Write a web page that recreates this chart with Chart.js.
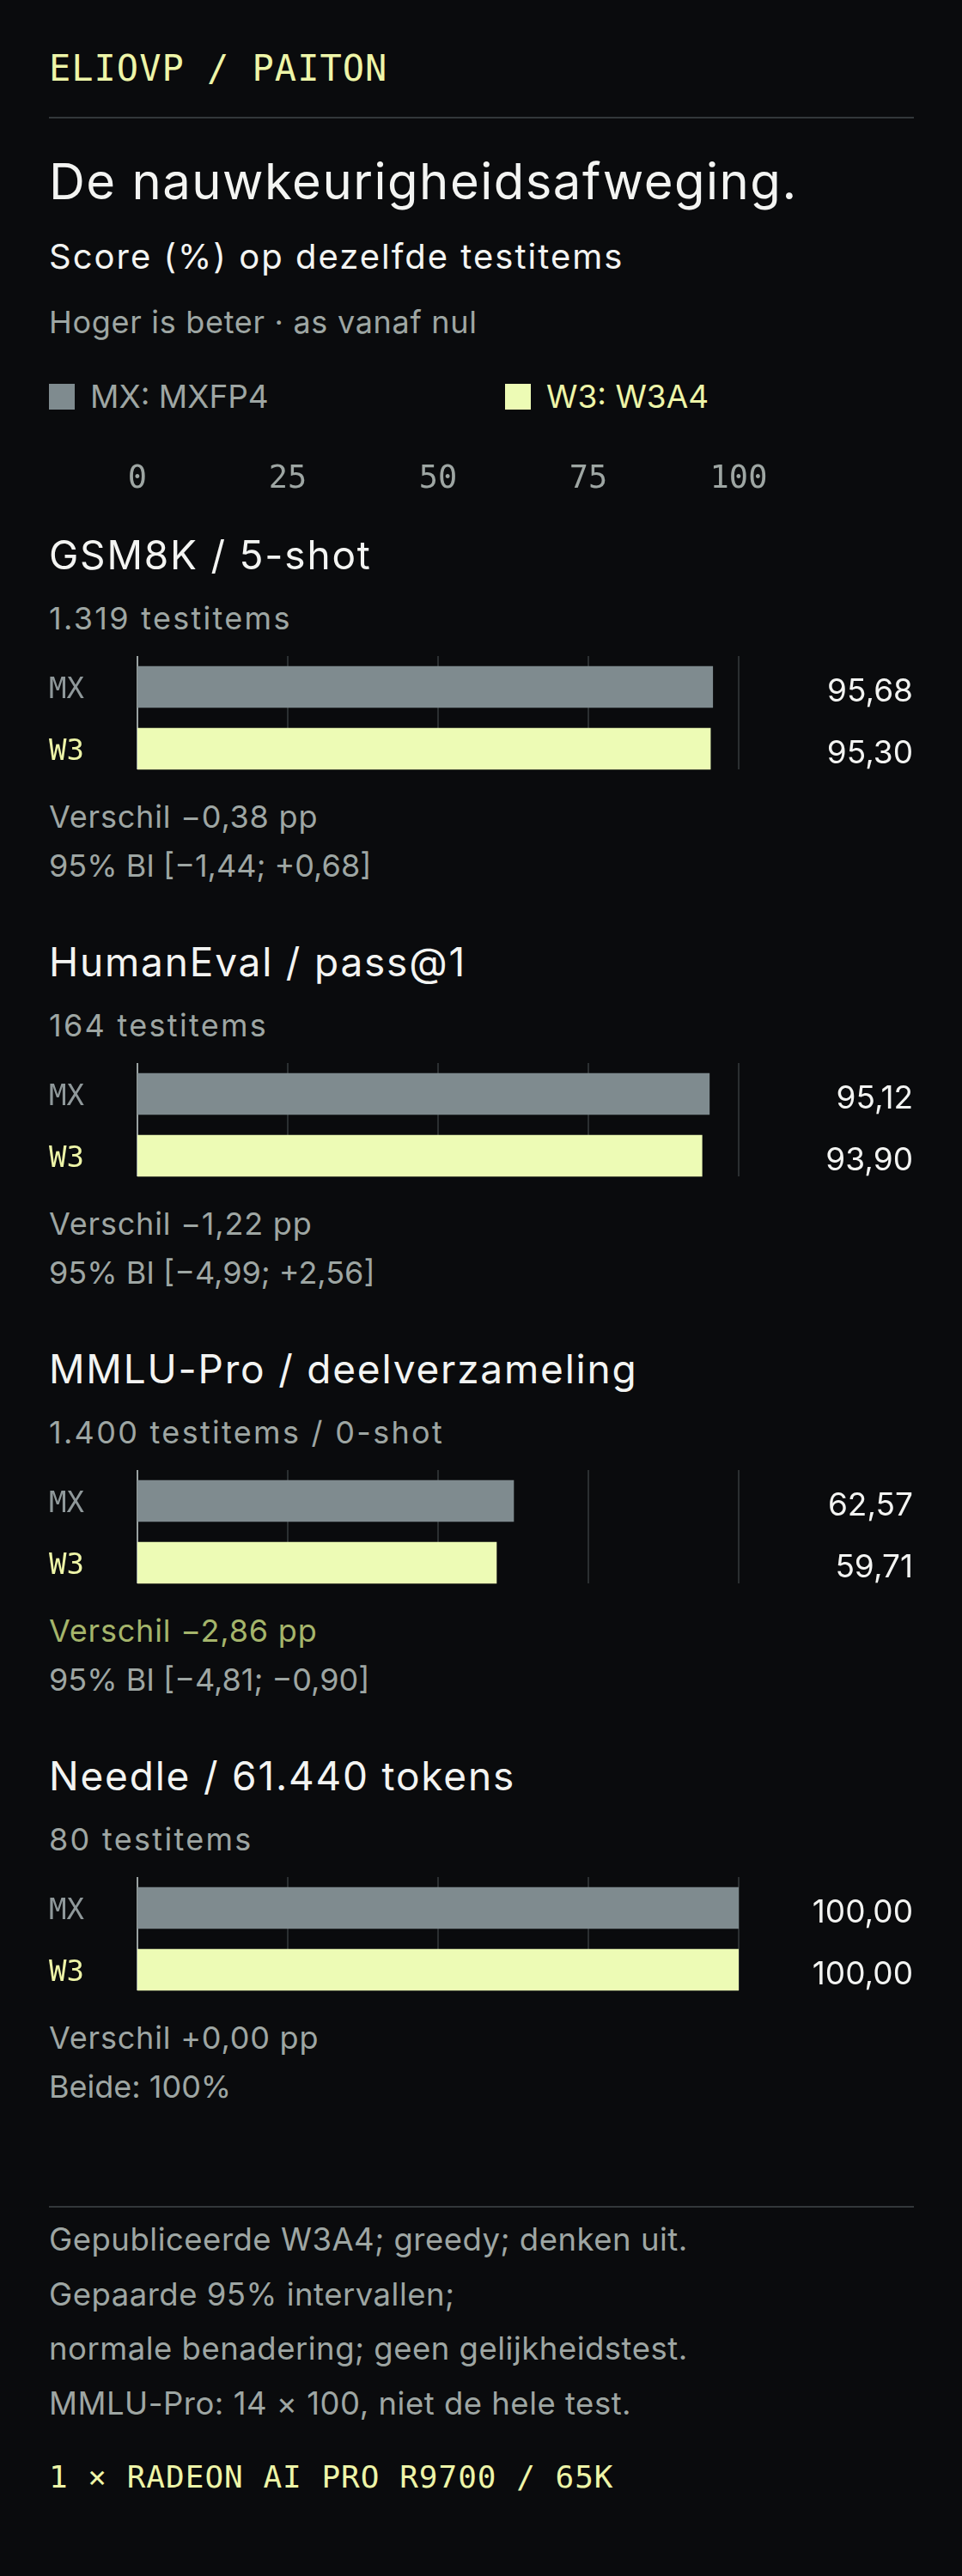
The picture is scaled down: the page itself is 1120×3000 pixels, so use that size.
<!DOCTYPE html>
<html lang="nl">
<head>
<meta charset="UTF-8">
<title>De nauwkeurigheidsafweging</title>
<style>
  html, body { margin: 0; padding: 0; background: #0a0b0d; }
  body {
    width: 1120px; height: 3000px; position: relative; overflow: hidden;
    font-family: Inter, "Noto Sans", sans-serif; color: #f3f4f2;
  }
  .t { position: absolute; left: 57px; white-space: nowrap; height: 60px; line-height: 60px; }
  .mono { font-family: "DejaVu Sans Mono", monospace; }
  .grey { color: #9ea6a3; }
  .rule { position: absolute; left: 57px; width: 1007px; height: 2px; background: #33373a; }
  .brand { top: 50px; font-size: 42px; letter-spacing: 1px; color: #eef5a8; }
  .title { top: 181px; font-size: 58px; letter-spacing: 1.5px; }
  .subtitle { top: 269px; font-size: 40px; letter-spacing: 2px; }
  .hint { top: 345px; font-size: 36px; letter-spacing: 0.7px; }
  .legend { top: 432px; font-size: 37px; }
  .legend span.sw { display: inline-block; width: 30px; height: 30px; vertical-align: middle; margin-right: 18px; position: relative; top: -3px; }
  .legend .item { position: absolute; top: 0; }
  .sec-head { font-size: 46px; letter-spacing: 1.8px; }
  .sec-count { font-size: 36px; letter-spacing: 2.3px; }
  .sec-diff { font-size: 36px; letter-spacing: 0.8px; }
  .sec-ci { font-size: 36px; }
  .foot { font-size: 36.5px; letter-spacing: 0.5px; }
  .gpu { top: 2855px; font-size: 36px; letter-spacing: 1px; color: #eef5a8; }
  canvas { position: absolute; left: 57px; }
</style>
</head>
<body>
  <div class="t mono brand">ELIOVP / PAITON</div>
  <div class="rule" style="top:136px"></div>
  <div class="t title">De nauwkeurigheidsafweging.</div>
  <div class="t subtitle">Score (%) op dezelfde testitems</div>
  <div class="t hint grey">Hoger is beter · as vanaf nul</div>
  <div class="t legend" id="legend"></div>
  <canvas id="axis" width="1007" height="120" style="top:536px"></canvas>
  <div id="sections"></div>
  <div class="rule" style="top:2569px"></div>
  <div id="notes"></div>
  <div class="t mono gpu">1 × RADEON AI PRO R9700 / 65K</div>

<script src="https://cdn.jsdelivr.net/npm/chart.js"></script>
<script>
// data
const benchmarks = ['GSM8K / 5-shot', 'HumanEval / pass@1', 'MMLU-Pro / deelverzameling', 'Needle / 61.440 tokens'];
const itemCounts = ['1.319 testitems', '164 testitems', '1.400 testitems / 0-shot', '80 testitems'];
const rowLabels = ['MX', 'W3'];
const mxScores = [95.68, 95.12, 62.57, 100.00];
const w3Scores = [95.30, 93.90, 59.71, 100.00];
const ciText = ['95% BI [−1,44; +0,68]', '95% BI [−4,99; +2,56]', '95% BI [−4,81; −0,90]', 'Beide: 100%'];
const significant = [false, false, true, false];
const axisTicks = [0, 25, 50, 75, 100];
const legendNames = ['MX: MXFP4', 'W3: W3A4'];
const notes = [
  'Gepubliceerde W3A4; greedy; denken uit.',
  'Gepaarde 95% intervallen;',
  'normale benadering; geen gelijkheidstest.',
  'MMLU-Pro: 14 × 100, niet de hele test.'
];

const barColors = ['#7f8b8f', '#edfbb5'];
const labelColors = ['#8f989a', '#eef5a8'];
const gridColor = '#2b2f31';
const zeroColor = '#9aa2a1';
const SANS = 'Inter, "Noto Sans", sans-serif';
const MONO = '"DejaVu Sans Mono", monospace';

function nl(v) {
  return v.toFixed(2).replace('.', ',');
}

// legend
const legend = document.getElementById('legend');
legendNames.forEach((name, i) => {
  const el = document.createElement('div');
  el.className = 'item';
  el.style.left = (i * 531) + 'px';
  el.style.color = i === 0 ? '#9ea6a3' : '#eef5a8';
  el.innerHTML = '<span class="sw" style="background:' + barColors[i] + '"></span>' + name;
  legend.appendChild(el);
});

// vertical grid, stops at the bottom of the last bar
const gridPlugin = {
  id: 'grid',
  beforeDatasetsDraw(chart) {
    const x = chart.scales.x;
    const bars = chart.getDatasetMeta(0).data;
    const area = chart.chartArea;
    const bottom = bars[bars.length - 1].y + bars[bars.length - 1].height / 2;
    const ctx = chart.ctx;
    ctx.save();
    axisTicks.forEach(t => {
      const px = Math.round(x.getPixelForValue(t));
      ctx.strokeStyle = t === 0 ? zeroColor : gridColor;
      ctx.lineWidth = 2;
      ctx.beginPath();
      ctx.moveTo(px, area.top);
      ctx.lineTo(px, bottom);
      ctx.stroke();
    });
    ctx.restore();
  }
};

// score text on the right
const valuePlugin = {
  id: 'values',
  afterDatasetsDraw(chart) {
    const ctx = chart.ctx;
    const meta = chart.getDatasetMeta(0);
    ctx.save();
    ctx.font = '37px ' + SANS;
    ctx.fillStyle = '#f3f4f2';
    ctx.textAlign = 'right';
    ctx.textBaseline = 'alphabetic';
    meta.data.forEach((bar, i) => {
      ctx.fillText(nl(chart.data.datasets[0].data[i]), chart.width - 1, bar.y + 17);
    });
    ctx.restore();
  }
};

// top axis with tick labels only
new Chart(document.getElementById('axis'), {
  type: 'bar',
  data: { labels: [], datasets: [] },
  options: {
    indexAxis: 'y',
    responsive: false,
    animation: false,
    layout: { padding: { left: 103, right: 204 } },
    plugins: { legend: { display: false }, tooltip: { enabled: false } },
    scales: {
      x: {
        position: 'top',
        min: 0, max: 100,
        grid: { display: false, drawTicks: false },
        border: { display: false },
        ticks: {
          stepSize: 25, padding: 0, maxRotation: 0, autoSkip: false,
          color: '#9ea6a3', font: { family: MONO, size: 37 }
        }
      },
      y: { display: false }
    }
  }
});

// one section per benchmark
const sections = document.getElementById('sections');
benchmarks.forEach((name, i) => {
  const base = 600 + 474 * i;
  const diff = w3Scores[i] - mxScores[i];
  const diffText = 'Verschil ' + (diff < 0 ? '−' : '+') + nl(Math.abs(diff)) + ' pp';

  const add = (cls, text, top, color) => {
    const el = document.createElement('div');
    el.className = 't ' + cls;
    el.style.top = top + 'px';
    if (color) el.style.color = color;
    el.textContent = text;
    sections.appendChild(el);
  };
  add('sec-head', name, base + 16);
  add('sec-count grey', itemCounts[i], base + 89.5);
  add('sec-diff grey', diffText, base + 320.5, significant[i] ? '#a5b56b' : null);
  add('sec-ci grey', ciText[i], base + 378);

  const canvas = document.createElement('canvas');
  canvas.width = 1007;
  canvas.height = 144;
  canvas.style.top = (base + 164) + 'px';
  sections.appendChild(canvas);

  new Chart(canvas, {
    type: 'bar',
    data: {
      labels: rowLabels,
      datasets: [{
        data: [mxScores[i], w3Scores[i]],
        backgroundColor: barColors,
        barThickness: 48,
        borderWidth: 0
      }]
    },
    options: {
      indexAxis: 'y',
      responsive: false,
      animation: false,
      layout: { padding: { left: 0, right: 204, top: 0, bottom: 0 } },
      plugins: { legend: { display: false }, tooltip: { enabled: false } },
      scales: {
        x: { display: false, min: 0, max: 100 },
        y: {
          afterFit(scale) {
            scale.width = 103;
            scale.paddingTop = 0;
            scale.paddingBottom = 0;
          },
          grid: { display: false },
          border: { display: false },
          ticks: {
            crossAlign: 'far',
            labelOffset: 4,
            color: ctx => labelColors[ctx.index],
            font: { family: MONO, size: 34 }
          }
        }
      }
    },
    plugins: [gridPlugin, valuePlugin]
  });
});

// footnotes
const notesEl = document.getElementById('notes');
notes.forEach((line, i) => {
  const el = document.createElement('div');
  el.className = 't foot grey';
  el.style.top = (2578 + 63.5 * i) + 'px';
  el.textContent = line;
  notesEl.appendChild(el);
});
</script>
</body>
</html>
